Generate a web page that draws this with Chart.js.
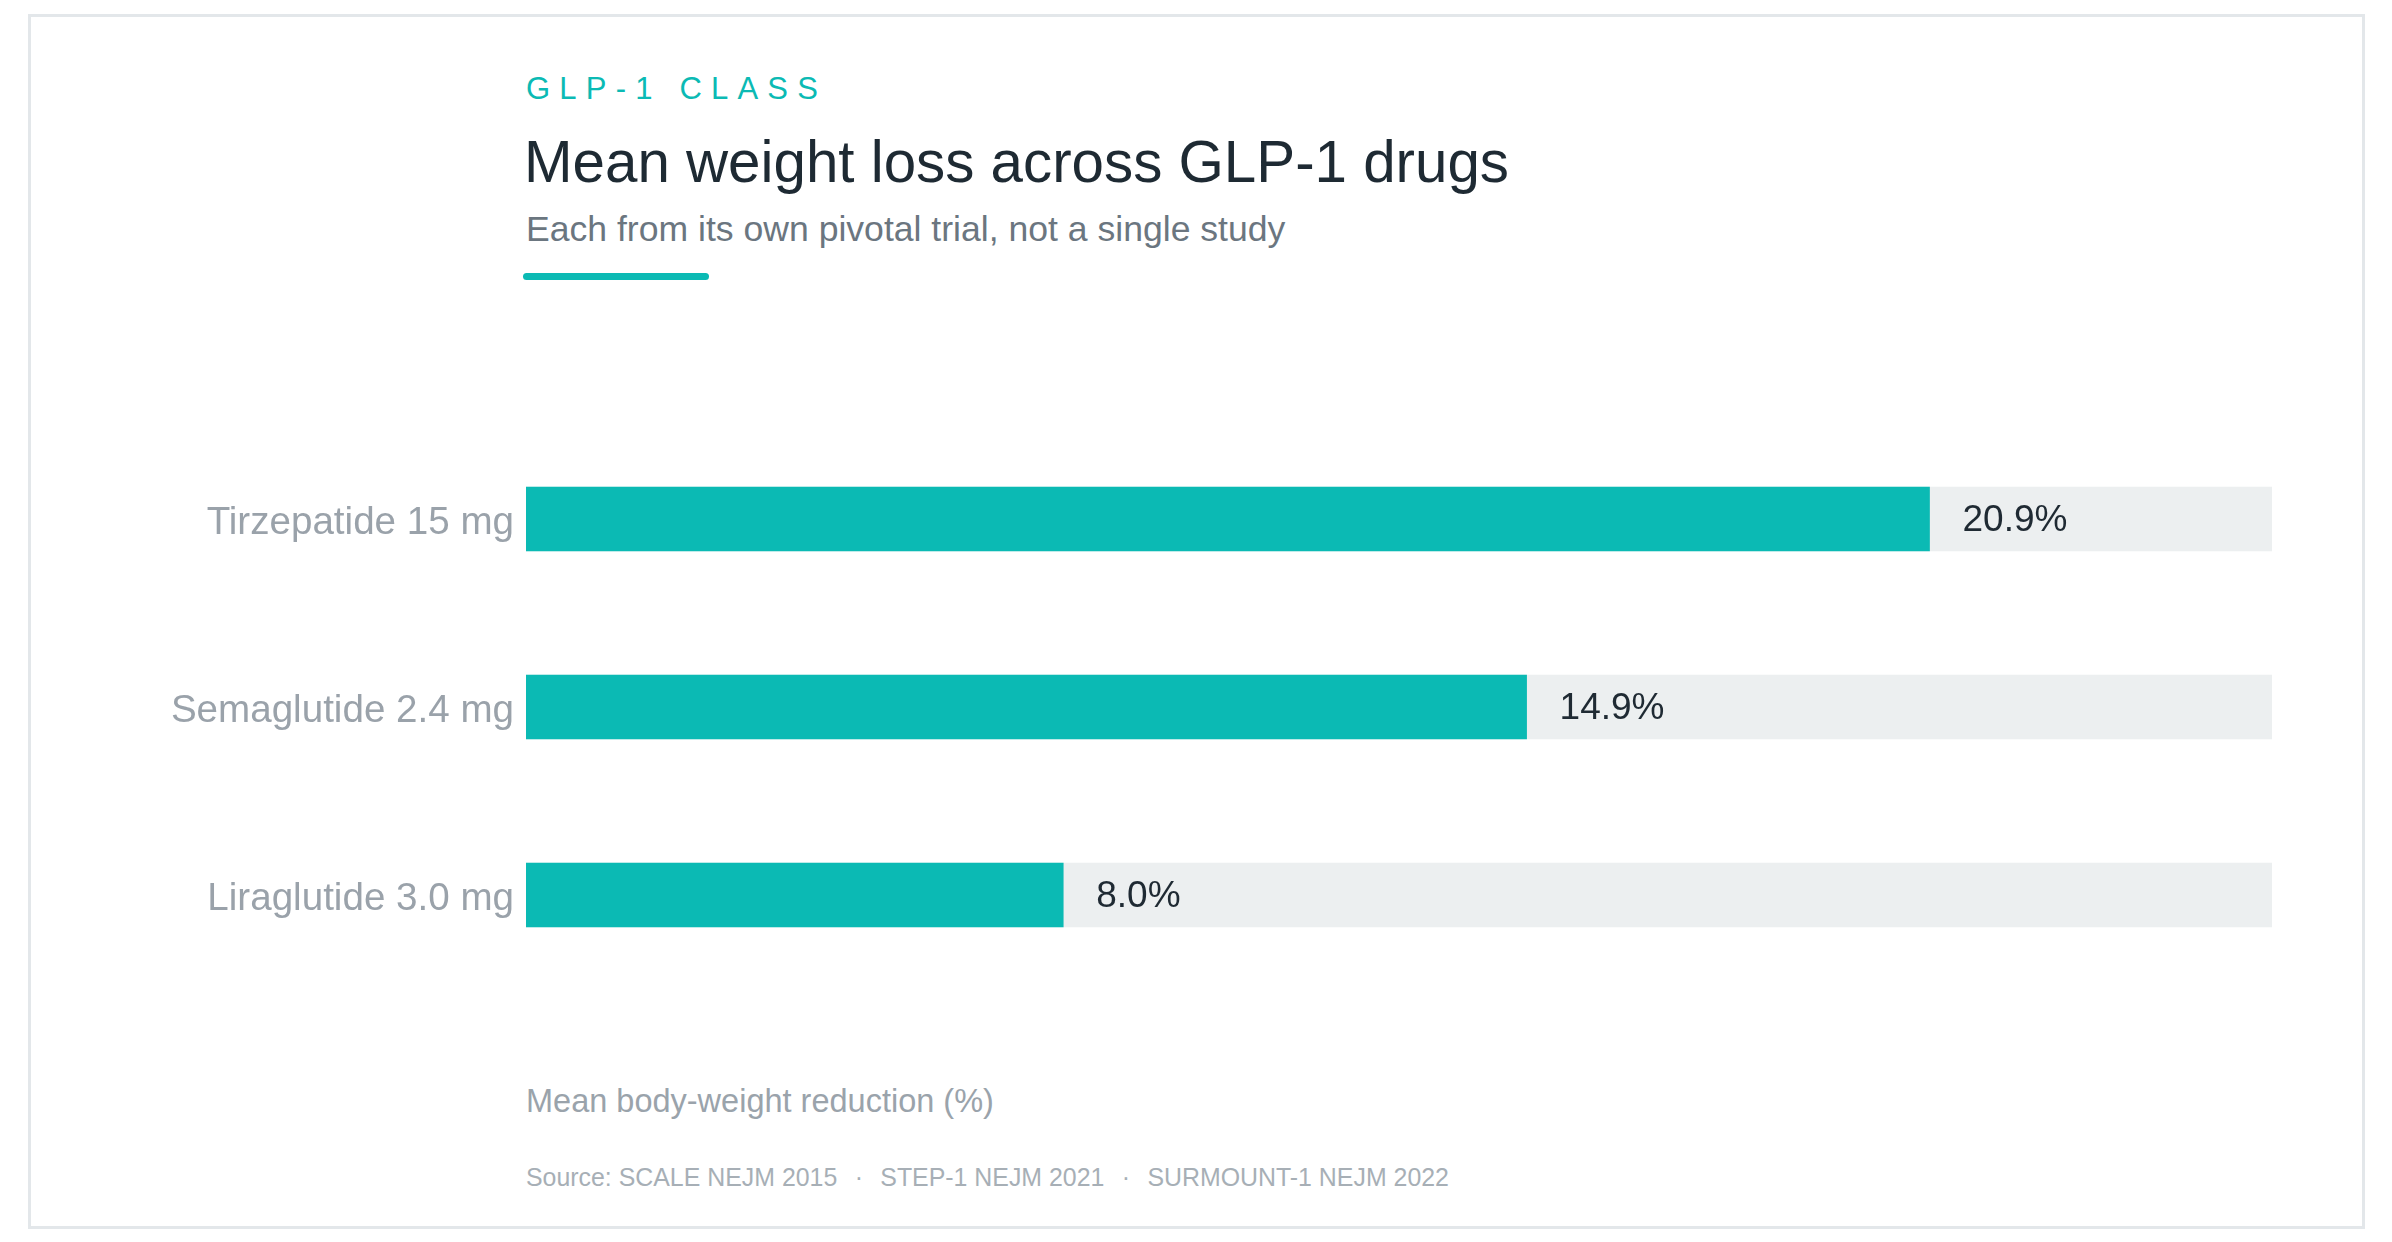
<!DOCTYPE html>
<html>
<head>
<meta charset="utf-8">
<script src="https://cdn.jsdelivr.net/npm/chart.js@4/dist/chart.umd.min.js"></script>
<style>
  html, body { margin: 0; padding: 0; background: #ffffff; }
  body { width: 2392px; height: 1242px; position: relative; overflow: hidden;
         font-family: 'Liberation Sans', Arial, Helvetica, sans-serif; }
  .frame { position: absolute; left: 28px; top: 14px; width: 2331px; height: 1209px;
           border: 3px solid #e3e7ea; }
  .t { position: absolute; white-space: nowrap; }
  #eyebrow { left: 526px; top: 73px; font-size: 31px; line-height: 31px; letter-spacing: 9.2px; color: #0bbab4; }
  #title { left: 524px; top: 133px; font-size: 58.3px; line-height: 58.3px; color: #1e2a33; }
  #subtitle { left: 526px; top: 212px; font-size: 35.6px; line-height: 35.6px; color: #6b7680; }
  #rule { position: absolute; left: 523px; top: 273px; width: 186px; height: 7px; border-radius: 4px; background: #0bbab4; }
  #axisTitle { left: 526px; top: 1085px; font-size: 32.5px; line-height: 32.5px; color: #9aa3ab; }
  #source { left: 526px; top: 1165px; font-size: 24.9px; line-height: 24.9px; color: #a7afb6; }
  #source .sep { display: inline-block; width: 43px; text-align: center; }
  #chartBox { position: absolute; left: 100px; top: 425px; width: 2172px; height: 564px; }
</style>
</head>
<body>
<div class="frame"></div>
<div class="t" id="eyebrow">GLP-1 CLASS</div>
<div class="t" id="title">Mean weight loss across GLP-1 drugs</div>
<div class="t" id="subtitle">Each from its own pivotal trial, not a single study</div>
<div id="rule"></div>
<div id="chartBox"><canvas id="c"></canvas></div>
<div class="t" id="axisTitle">Mean body-weight reduction (%)</div>
<div class="t" id="source"></div>
<script>
// ---- data ----
const drugs = ['Tirzepatide 15 mg', 'Semaglutide 2.4 mg', 'Liraglutide 3.0 mg'];
const meanLoss = [20.9, 14.9, 8.0];
const trackMax = [26, 26, 26];
const axisMax = 26;
const sources = ['Source: SCALE NEJM 2015', 'STEP-1 NEJM 2021', 'SURMOUNT-1 NEJM 2022'];

// source line
const src = document.getElementById('source');
sources.forEach((s, i) => {
  if (i > 0) { const sp = document.createElement('span'); sp.className = 'sep'; sp.textContent = '·'; src.appendChild(sp); }
  src.appendChild(document.createTextNode(s));
});

const FONT = "'Liberation Sans', Arial, Helvetica, sans-serif";
const PLOT_LEFT_IN_CANVAS = 426;

const valueLabels = {
  id: 'valueLabels',
  afterDatasetsDraw(chart) {
    const ctx = chart.ctx;
    const xs = chart.scales.x;
    const meta = chart.getDatasetMeta(0);
    ctx.save();
    ctx.font = '37px ' + FONT;
    ctx.fillStyle = '#1f2a33';
    ctx.textAlign = 'left';
    ctx.textBaseline = 'middle';
    meta.data.forEach((bar, i) => {
      const v = chart.data.datasets[0].data[i];
      ctx.fillText(v.toFixed(1) + '%', xs.getPixelForValue(v) + 33, bar.y + 2);
    });
    ctx.restore();
  }
};

new Chart(document.getElementById('c'), {
  type: 'bar',
  data: {
    labels: drugs,
    datasets: [
      { label: 'Mean loss', data: meanLoss, backgroundColor: '#0bbab4', order: 0,
        grouped: false, barThickness: 64, borderWidth: 0 },
      { label: 'Track', data: trackMax, backgroundColor: '#eceff0', order: 1,
        grouped: false, barThickness: 64, borderWidth: 0 }
    ]
  },
  options: {
    indexAxis: 'y',
    responsive: true,
    maintainAspectRatio: false,
    animation: false,
    layout: { padding: 0 },
    plugins: { legend: { display: false }, tooltip: { enabled: false }, title: { display: false } },
    scales: {
      x: { display: false, min: 0, max: axisMax },
      y: {
        grid: { display: false, drawTicks: false },
        border: { display: false },
        ticks: { color: '#9aa2aa', font: { family: FONT, size: 38.6 }, padding: 12, labelOffset: 4 },
        afterFit(scale) { scale.width = PLOT_LEFT_IN_CANVAS; scale.paddingTop = 0; scale.paddingBottom = 0; }
      }
    }
  },
  plugins: [valueLabels]
});
</script>
</body>
</html>
